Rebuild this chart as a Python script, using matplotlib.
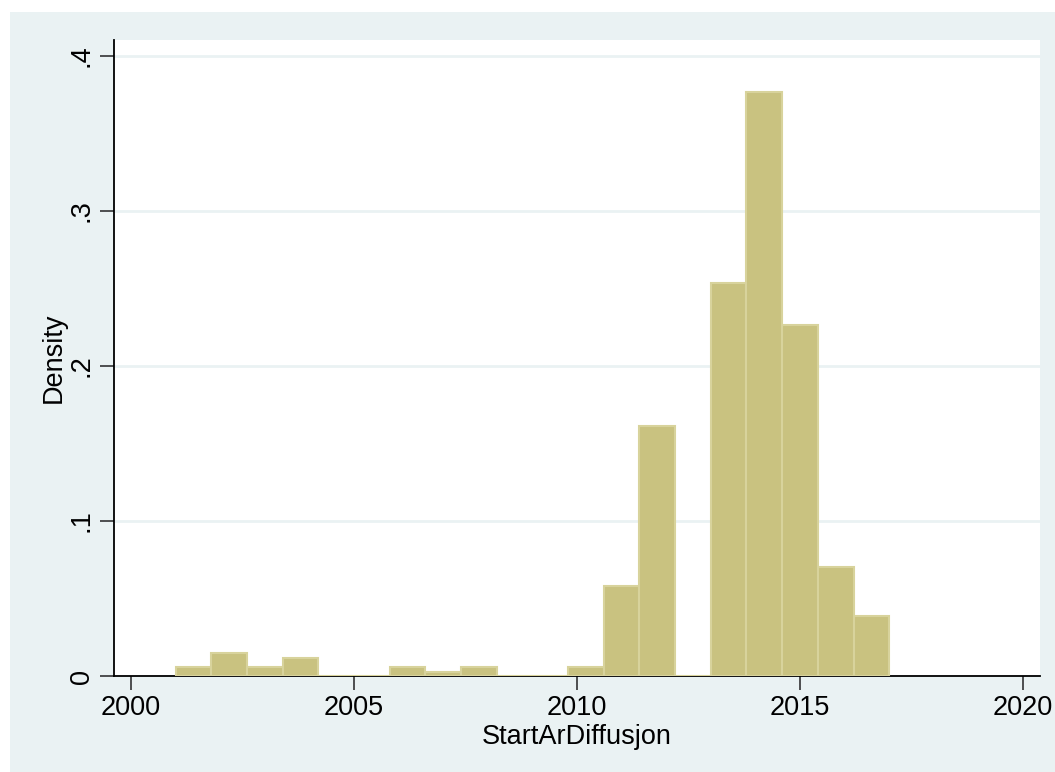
import matplotlib
matplotlib.use("Agg")
import matplotlib.pyplot as plt
import numpy as np

plt.rcParams['font.family'] = ['Liberation Sans', 'DejaVu Sans']

# Histogram bins (start year, width 0.8) and densities
bin_start = 2001.0
bin_width = 0.8
densities = [0.0058, 0.0148, 0.0058, 0.0116, 0.0, 0.0, 0.0058, 0.0029, 0.0058, 0.0,
             0.0, 0.0058, 0.058, 0.161, 0.0, 0.2535, 0.377, 0.2265, 0.0703, 0.0387]
x_ticks = [2000, 2005, 2010, 2015, 2020]
y_ticks = [0, 0.1, 0.2, 0.3, 0.4]
y_ticklabels = ['0', '.1', '.2', '.3', '.4']
x_label = 'StartArDiffusjon'
y_label = 'Density'

edges = bin_start + bin_width * np.arange(len(densities))

W, H = 1055, 772
fig = plt.figure(figsize=(W / 100, H / 100), dpi=100)
fig.patch.set_facecolor('white')
bg = '#EAF2F3'
fig.add_artist(plt.Rectangle((10 / W, 0), 1, 1 - 12 / H, transform=fig.transFigure,
                             facecolor=bg, edgecolor='none', zorder=-10))

ax = fig.add_axes([114 / W, 1 - 676 / H, (1040 - 114) / W, (676 - 40) / H])
ax.set_facecolor('white')
ax.bar(edges, densities, width=bin_width, align='edge', color='#C9C280',
       edgecolor='#D8D39C', linewidth=1.5, zorder=3)

ax.set_xlim(2000 - 17 / 44.6, 2020 + 17 / 44.6)
ax.set_ylim(0, 0.4103)
ax.set_xticks(x_ticks)
ax.set_yticks(y_ticks)
ax.set_yticklabels(y_ticklabels, rotation=90, va='center')
ax.tick_params(axis='both', direction='out', length=10, width=1.2, color='#333333',
               labelsize=19.5)
ax.tick_params(axis='x', pad=4)
ax.tick_params(axis='y', pad=4)
ax.grid(axis='y', color='#EAF2F3', linewidth=2, zorder=0)
for s in ['top', 'right']:
    ax.spines[s].set_visible(False)
for s in ['left', 'bottom']:
    ax.spines[s].set_linewidth(1.3)
    ax.spines[s].set_color('black')
ax.set_xlabel(x_label, fontsize=19.5, labelpad=2)
ax.set_ylabel(y_label, fontsize=19.5, labelpad=1)

fig.savefig('out.png', dpi=100, facecolor=fig.get_facecolor())
